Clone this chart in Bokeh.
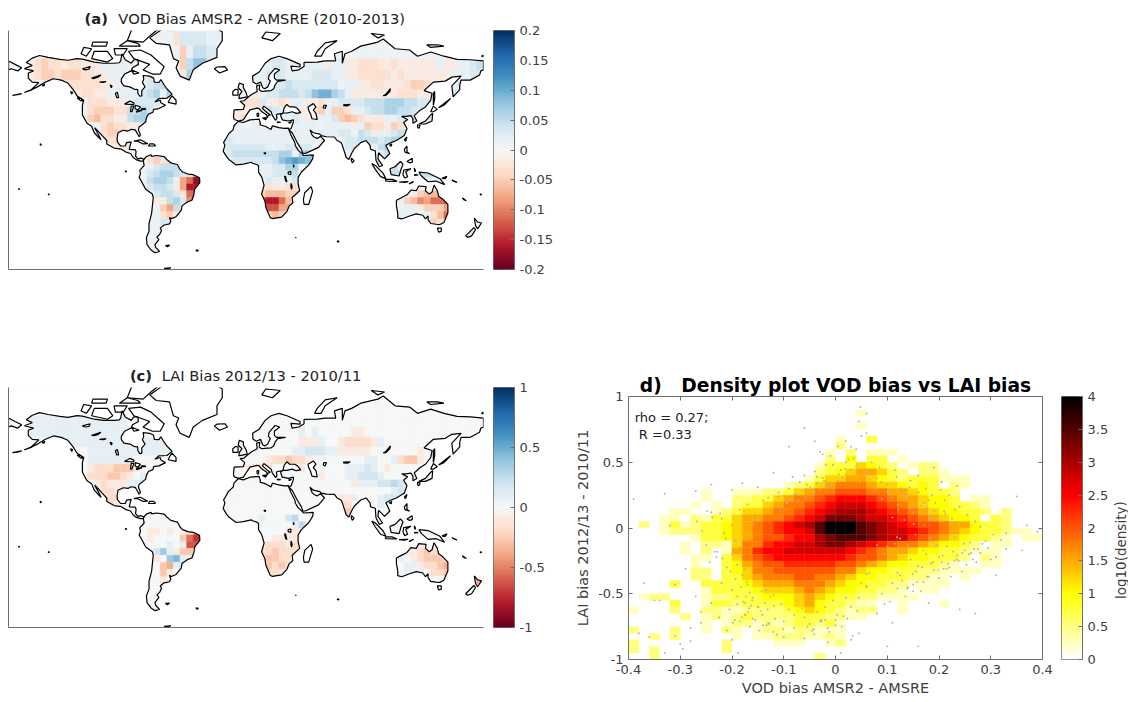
import numpy as np
from bokeh.plotting import figure
from bokeh.layouts import row, column
from bokeh.embed import file_html
from bokeh.resources import INLINE
from bokeh.models import (ColumnDataSource, LinearColorMapper, FixedTicker, LinearAxis, Label, Range1d)
from bokeh.palettes import RdBu11
from bokeh.core.properties import value
from bokeh.transform import transform

# ---------- titles / labels ----------
title_a = ("(a)", "VOD Bias AMSR2 - AMSRE (2010-2013)")
title_c = ("(c)", "LAI Bias 2012/13 - 2010/11")
title_d = "d)\u00a0\u00a0\u00a0Density plot VOD bias vs LAI bias"
xlabel_d = "VOD bias AMSR2 - AMSRE"
ylabel_d = "LAI bias 2012/13 - 2010/11"
cblabel_d = "log10(density)"
note_lines = ["rho = 0.27;", "\u00a0R =0.33"]

ticks_cb_a = [-0.2, -0.15, -0.1, -0.05, 0, 0.05, 0.1, 0.15, 0.2]
ticks_cb_c = [-1, -0.5, 0, 0.5, 1]
ticks_cb_d = [0, 0.5, 1, 1.5, 2, 2.5, 3, 3.5, 4]
ticks_x_d = [-0.4, -0.3, -0.2, -0.1, 0, 0.1, 0.2, 0.3, 0.4]
ticks_y_d = [-1, -0.5, 0, 0.5, 1]

# ---------- coastlines (lon, lat) ----------
north_america = [(-168,65.6),(-164,66.5),(-162,67),(-166.5,68.3),(-162,70.2),(-156.5,71.3),(-150,70.5),(-141,69.7),(-135,69.3),(-128,70),(-124,69.8),(-115,68.5),(-108,68),(-100,68),(-96,68.2),(-95,69),(-94,72),(-91.5,69.5),(-87,68),(-85,69.5),(-82,69.5),(-81.5,67.5),(-86,66),(-87,64.5),(-92,63),(-94.5,60.5),(-94.5,58.8),(-92.5,57),(-88,56.5),(-85,55.3),(-82,55),(-82,53),(-80.5,51.3),(-79,51.5),(-79,54.5),(-76.5,56.5),(-78.5,58.7),(-77.5,60.5),(-78,62.3),(-73,62),(-70,61),(-69.5,59),(-66,58.8),(-64.5,60.3),(-62,57.5),(-60,55.5),(-56,52.5),(-60,50.2),(-66,50),(-69,48),(-65,49),(-64.5,47.5),(-61,46),(-66,44),(-70,43.5),(-70.5,41.7),(-74,40.5),(-75.5,38),(-76,35.5),(-78,34),(-81,32),(-81.5,30),(-80,26.5),(-81,25.2),(-82.7,28),(-84,30),(-87,30.4),(-89.5,29.2),(-93,29.7),(-97,28),(-97.7,24),(-97.5,21.5),(-95,18.5),(-91.5,18.5),(-90.5,21),(-87,21.5),(-88,18),(-88.5,16),(-84,15.8),(-83.3,14.5),(-83.7,11),(-82,9),(-79.5,9.5),(-77.5,8.7),(-77.8,7.3),(-80,7.3),(-83,8.2),(-85.5,10),(-87.5,13),(-91,14),(-94.5,16.2),(-100,17),(-105.5,20),(-105.5,22.5),(-109,26),(-112.5,29.5),(-114.7,31.5),(-112,27),(-109.8,23),(-112,25),(-115,28),(-117,32.5),(-120.5,34.5),(-124,40),(-124,46),(-123,49),(-128,51.5),(-131,55),(-135,58.5),(-140,60),(-146,60.7),(-152,59),(-158,56.5),(-163,54.8),(-157,58.7),(-162,59),(-165,61),(-165,63.5),(-161,64.5),(-168,65.6)]
south_america = [(-77.5,8.5),(-75.5,10.7),(-72,12),(-71.5,10.8),(-68,11.5),(-62,10.7),(-60,8.5),(-57,6),(-52,4.7),(-50,1),(-48,-1),(-44,-2.5),(-40,-3),(-35.2,-5.3),(-35,-9),(-39,-14),(-39.5,-18),(-41,-22),(-44.5,-23.2),(-48.5,-26),(-49,-29),(-53,-33.5),(-56.5,-34.8),(-58,-34),(-57,-36.5),(-58,-38.3),(-62,-39),(-65,-41),(-64,-42.5),(-65.5,-45),(-67.5,-46.5),(-66,-48),(-69,-51),(-68.5,-52.5),(-65.5,-54.8),(-69,-55.5),(-72,-54),(-75,-51),(-75.5,-47),(-73.5,-43),(-73.5,-38),(-71.5,-31),(-70.3,-20),(-71,-17.5),(-76,-14),(-79.5,-7.5),(-81,-5),(-80,-2.5),(-80.5,0.5),(-78.5,2.5),(-77.2,4),(-77.8,7.3),(-77.5,8.5)]
africa = [(-5.9,35.8),(-2,35),(3,36.8),(10,37.3),(11,34),(10.5,33.5),(15,32.3),(19,30.3),(20,32.8),(25,31.6),(29,31),(32.3,31.2),(32.6,29.9),(34,26.5),(37,21),(37.5,18.7),(39.5,15.5),(43,12.3),(43.5,11.5),(51,11.9),(50.5,9),(47.5,4.2),(42,-1),(39.5,-5),(39.5,-10),(40.7,-15),(35,-20),(35.5,-24),(32.8,-26),(31,-30),(27,-33.8),(20,-34.8),(18.3,-34),(15,-27),(14.3,-22.5),(11.8,-17.5),(13.7,-11),(12,-5),(9.5,-1),(9.5,3.7),(8.5,4.5),(5,5.7),(4,6.4),(-2,5),(-7.5,4.4),(-13,8.5),(-15,11),(-17.3,14.7),(-16,19),(-17,21),(-13,27.5),(-9.8,30),(-9,33),(-5.9,35.8)]
eurasia = [(-9,37),(-9.5,38.7),(-9,43.2),(-2,43.5),(-1,46),(-4.5,48.4),(-1.5,48.7),(2,51),(4.5,52.5),(8.5,54),(8,57),(10.5,57.5),(10,55),(12,54),(14,54.2),(19,54.5),(21,55.5),(22,57.5),(24,59.3),(30,60),(23,60),(21.5,61),(21.5,63),(25.5,65),(22,65.7),(17.5,62.5),(17,60.5),(18.5,59.5),(16.5,56.5),(14.2,55.5),(12.7,56),(11,59),(8,58),(5.3,59),(5,62),(10,64),(14.5,68),(19,70),(25,71),(31,70),(41,67.5),(41,66.3),(34,66.7),(35,64.5),(40,65),(44,66.5),(44,68.4),(54,68.5),(60,69),(68,69),(67,72),(73,73),(73,68),(75,72),(80,73),(87,75),(100,76.5),(104,77.6),(113,74),(124,73.5),(130,71),(140,72.7),(150,71),(160,69.7),(170,69.5),(180,69),(180,65),(178,64.5),(177,62.5),(170,60),(163,60),(162,57.5),(162,55),(157,51),(156,57),(163,62),(156,61.5),(151,59.5),(142,59),(135,54.5),(141,53),(140,49),(136,45),(132,43),(127.5,39.5),(129.5,36),(126.5,34.5),(126.5,37.5),(125,39.5),(121.5,39),(118,39),(122.5,37),(119.5,35),(122,31),(120,26),(114,22.5),(110,21),(106,19),(109,13),(105,9),(100.5,13.5),(100,9),(103.5,4),(101,3),(98.5,8),(98,15),(94.5,16),(94,19),(91,22.5),(87,21),(82,16.5),(80,13),(78,8.5),(76,10),(73,19),(72,21),(69,22.5),(67,25),(61,25.2),(57,26),(56,27),(51,28),(48.5,30),(50,26.5),(51.5,25),(54,24),(56.5,25.5),(59.5,22.5),(55,17.5),(45,13),(43,13),(42,16),(38.8,21),(35,28),(32.6,29.9),(34.3,31.2),(35.8,35),(36,36.8),(32,36),(27.5,36.8),(26.3,39.5),(26.5,40.5),(28,41),(24,40.5),(23,40),(23.5,38),(22.5,36.5),(20,39.5),(19,42),(13.5,45.5),(12.5,44),(16,41.5),(18.5,40),(16.8,39.5),(16,38),(15.7,40),(12,42),(10,44),(8.5,44.3),(3,43.2),(0,39.5),(-2,36.8),(-5.5,36),(-9,37)]
australia = [(114,-22),(114,-26),(115,-31),(115,-34.3),(118,-35),(124,-33),(129,-31.6),(134,-32.5),(136,-35),(138,-33),(138,-35.5),(140,-38),(144,-38.5),(147,-38.7),(150,-37.3),(153,-31),(153,-25),(149,-21),(146,-19),(145,-15),(142.5,-10.8),(141,-16),(139,-17.5),(136,-15),(136.5,-12),(131,-11.5),(129,-15),(125,-14.5),(122,-18),(117,-20.5),(114,-22)]
chukotka = [(-180,69),(-175,67.5),(-170,66),(-173,64.5),(-178,65.5),(-180,65),(-180,69)]
greenland = [(-73,78),(-68,76),(-58,75.5),(-55,70),(-51,69),(-53,66),(-50,62),(-43,60),(-40,65),(-33,68),(-22,70.5),(-22,74),(-18,77),(-18,80),(-25,82),(-40,83.5),(-60,82),(-73,78)]
# land islands that carry data
sumatra = [(95.3,5.5),(98,4),(104,-2),(106,-6),(102,-4.5),(98,1)]
java = [(105.5,-6.5),(111,-6.5),(114.5,-8),(106,-7.8)]
borneo = [(109,1.5),(113,3),(117,7),(119,5),(117.5,1),(116,-4),(110,-3)]
new_guinea = [(131,-1),(138,-1.7),(147,-6),(150.5,-10.5),(144,-7.8),(138,-8.3),(133,-4)]
honshu = [(131,34),(136,36),(140,40),(141.5,41),(141,36),(136,34)]
nz_north = [(173,-34.5),(175.5,-37),(178.5,-37.7),(175.5,-41.5),(174,-39.5)]
nz_south = [(172.7,-40.7),(174,-42),(171,-45.8),(168,-46.7),(166.5,-45.8)]
great_britain = [(-5.5,50),(1,51),(0,53.5),(-2,56),(-2,57.7),(-5,58.5),(-6,56),(-3,54),(-5,52)]
# white islands
baffin = [(-80,73.5),(-72,71.5),(-67,69),(-62,66.5),(-65,63),(-71,63),(-78,65),(-73,67.5),(-85,70),(-89,73)]
victoria_isl = [(-117,70),(-105,68.5),(-101,70),(-105,73),(-115,73)]
banks = [(-125,72),(-121,71),(-117,74),(-123,74.5)]
ellesmere = [(-90,77),(-78,76.5),(-72,79),(-62,82.5),(-85,82.5)]
devon = [(-96,75),(-80,75),(-82,76),(-90,77)]
melville = [(-117,75),(-106,75),(-105,76.5),(-116,76.5)]
prince_wales = [(-100,74),(-90,74),(-93,71.5),(-99,71.5)]
southampton = [(-87,65),(-81,63.5),(-85,63)]
newfoundland = [(-59,47.7),(-53,46.7),(-53,49),(-56,51.5),(-57.5,50)]
iceland = [(-24,65.5),(-20,63.5),(-14,65),(-16,66.5),(-22,66.3)]
ireland = [(-10,52),(-6,52),(-6,55),(-8,55.2),(-10,54)]
svalbard = [(12,78),(20,77),(26,79.5),(15,80)]
novaya = [(52,71),(57,71),(60,74),(69,77),(60,76.2),(54,73)]
cuba = [(-85,22),(-80,23),(-74.5,20.2),(-78,20),(-82,22)]
hispaniola = [(-74,18.5),(-68.5,18.5),(-70,20),(-73,20)]
madagascar = [(49.3,-12),(50.5,-15.5),(47.5,-25),(44,-25),(43.5,-21.5),(44.5,-16.5)]
sri_lanka = [(80,9.5),(82,7.5),(80.5,6),(79.8,8)]
sulawesi = [(119.5,0.5),(125,1.5),(121,-0.8),(122.5,-4.5),(120.3,-5.5),(119,-3)]
luzon = [(120,16),(122,18.5),(122,14),(124,12.8),(120.5,14)]
mindanao = [(122,7),(126,9.5),(126,6.5),(124,6)]
taiwan = [(120,23),(122,25),(121,22)]
hainan = [(108.7,19),(110.5,20),(110,18.3)]
hokkaido = [(140,42),(142,45.5),(145,43.5),(142,42)]
kyushu = [(130,33.5),(132,33),(131,31),(130,32)]
sakhalin = [(142,46),(143,50),(143,54),(142,53),(142,49)]
tasmania = [(145,-41),(148,-41),(148,-43),(146,-43.5)]
sardinia = [(8.3,41),(9.7,41),(9.5,39),(8.5,39)]
sicily = [(12.5,38),(15.5,38.2),(15,36.8)]
crete = [(23.5,35.5),(26.3,35.2),(24,35)]
cyprus = [(32.3,35),(34.5,35.5),(33,34.6)]
timor = [(123.5,-10),(127,-8.4),(125,-9)]
flores = [(116,-8.5),(123,-8.2),(120,-8.9)]
seram = [(127.5,-3),(130.5,-3.2),(128,-3.5)]
halmahera = [(127.5,2),(128.5,0),(128,-0.8)]
new_caledonia = [(164,-20.3),(167,-22.3),(165,-21.6)]
solomon = [(156,-7),(160,-8.8),(157.5,-8)]
new_britain = [(148.5,-5.8),(152.3,-4.2),(151,-6)]
fiji = [(177.3,-17.5),(178.6,-17.7),(178,-18.3)]
hawaii = [(-156,20.2),(-155,19.5),(-155.8,19)]
aleut_a = [(-177,51.8),(-172,52.3),(-170,52.8)]
aleut_b = [(-168,53.4),(-165,54.3),(-162,55)]
kodiak = [(-154.5,57.2),(-152.5,58),(-153,57)]
vancouver = [(-128,50.5),(-125,50),(-123.5,48.5),(-125.5,48.8)]
haida = [(-133,54),(-131.5,53.5),(-132,52.5)]
falkland = [(-61,-51.5),(-58,-51.3),(-59.5,-52.2)]
south_georgia = [(-38,-54),(-36,-54.2),(-37,-54.7)]
antarctic_tip = [(-62,-63.5),(-57,-63.2),(-59,-63.9)]
antarctic_b = [(-63,-64.3),(-61.5,-63.9),(-60,-64.3)]
kerguelen = [(69,-49),(70.5,-49),(70,-49.6)]
marion = [(37.5,-46.7),(38,-46.8),(37.8,-47)]
galapagos = [(-91.5,-0.3),(-90.5,-0.3),(-91,-1)]
tahiti = [(-150,-17.5),(-149,-17.5),(-149.5,-18)]
samoa = [(-172.5,-13.5),(-171.5,-13.8),(-172,-14.1)]
kuril = [(146,44.5),(150,46),(155,50)]
wrangel = [(178.5,71),(180,71.5),(180,70.8)]
siberian_isl = [(137,75.5),(145,75.5),(150,75),(140,74.5)]
severnaya = [(95,79.5),(105,79),(100,78)]
# inland waters
black_sea = [(28,41.2),(31,41.2),(35,42),(38,41),(41.5,41.5),(39,44),(37,45),(35,45),(33,45),(31,46.5),(29,44.5)]
caspian = [(47,45),(51,47),(53,45),(51,43),(53,41),(54,37),(50,37.5),(49,40.5),(47.5,43)]
aral = [(59,46),(61,46),(60,44),(58.5,44.5)]
baikal = [(104,51.6),(106,52.5),(109.5,55.5),(109,54),(106,51.8)]
balkhash = [(74,46.3),(79,46.5),(77,45.7),(74,45.8)]
superior = [(-92,46.7),(-88,48.5),(-85,47.5),(-85,46.5),(-88,46.5)]
michigan = [(-87.5,42),(-86.5,42),(-85,45.5),(-87,45.5)]
huron = [(-84,46),(-80,45),(-82,43),(-84,44)]
erie = [(-83,41.7),(-79,42.8),(-79,43),(-83,42.3)]
ontario = [(-79.5,43.5),(-76,43.5),(-76.5,44),(-79,44)]
winnipeg = [(-98,50.5),(-96.5,50.5),(-97.5,53.5),(-99,53)]
great_slave = [(-117,61),(-110,62.5),(-112,61.5),(-115,60.8)]
great_bear = [(-124,65.5),(-118,66.5),(-119,65.3),(-122,65)]
athabasca = [(-111,59),(-106,59.3),(-108,58.8)]
reindeer = [(-103,57.5),(-101.5,57),(-102,56)]
victoria_lk = [(32,-1),(34,-0.5),(34,-3),(32,-2.5)]
tanganyika = [(29.2,-4),(30,-4.5),(31,-8.5),(30,-7.5)]
malawi = [(34.2,-9.5),(35,-12),(34.5,-14),(34,-12)]
turkana = [(35.8,4.5),(36.3,4),(36.2,2.5)]
chad = [(13.5,13.5),(15,13.5),(14.5,12.5)]

land_holes = [north_america, south_america, africa, eurasia, australia, chukotka, sumatra, java, borneo, new_guinea, honshu, nz_north, nz_south, great_britain]
white_rings = [baffin, victoria_isl, banks, ellesmere, devon, melville, prince_wales, southampton, newfoundland, iceland, ireland, svalbard, novaya, cuba, hispaniola, madagascar, sri_lanka, sulawesi, luzon, mindanao, taiwan, hainan, hokkaido, kyushu, sakhalin, tasmania, sardinia, sicily, crete, cyprus, timor, flores, seram, halmahera, new_caledonia, solomon, new_britain, fiji, hawaii, aleut_a, aleut_b, kodiak, vancouver, haida, falkland, south_georgia, antarctic_tip, antarctic_b, kerguelen, marion, galapagos, tahiti, samoa, kuril, wrangel, siberian_isl, severnaya, black_sea, caspian, aral, baikal, balkhash, superior, michigan, huron, erie, ontario, winnipeg, great_slave, great_bear, athabasca, reindeer, victoria_lk, tanganyika, malawi, turkana, chad]

# ---------- regional bias read from the maps, 5 deg cells, top row 85-80N ----------
# digits: positive steps, letters a-l: negative steps, dot: land background
bias_a = [
"........................b1111111",
".........................b2222111",
"..........................c1332211",
"...abcbbabbaaa1111........c35521.......122111111a11aabbbaabaaaaaa1aa1123",
"...abccbcccbbaa11111122...a442.......11222111122211aabbbbbabaaaaaaa11122",
"........abbbbbaa11111233.32............22232222222.11aabbaaabccbaa11234311",
"..........abbaa11111234.43...........a12233323566431aaaaaaabbbaa1112",
"............bbbaaa122221..........abbb2aaba11aab112222333444332211",
"............bcccbb3342...........aaaabb32121aabc1ccb112334433221",
"............cdbbaa3441............ab.....1121a1112cdcbaaa11233422",
"..............bcbbaa223..............1111111111.1111a1cbbacba1233322",
"..............bccd22............11111111111111111122.32a11233322",
"...............bbcb..............21111111111111111.22333234443",
"...............1aab1.............2222221112222.11..2233.34443",
".................1111a...........2333333344.455.....22...3344",
".....................bcbcaa1......2222223567653.........33.2",
".....................12333aa.........1112244.32..........33.4455",
".....................2344322e.........112223.1............3344333.3322",
".....................34431egk.........121112.1..............222...222",
".....................2332aejj.........abaabbb..................aaa",
"......................2332bgh.........cdddccc...............1acdddf",
"......................aa342f.........dhjjgd...............11cdfeggh",
".......................ce32b..........chheed................11acccegg",
".......................bca2............cdcb................11a.1bdgf...2",
".......................212......................................cb...22",
".......................11............................................22",
".......................11............................................2",
".......................11",
"",
"",
]
bias_c = [
"", "", "",
"...111111111111111",
"...1111111111111111.........................1.1.....aa",
"........111111111111111111..................aaa1..abbbba1",
"............1111111111111...........11.....1122211aaaaa.......a",
"............1111111....................abbcbba........11..1bcca",
"............abbbccca................abbb....a......11121.a",
"............bbbccba.1................a.a.a.....a...112221",
".............abaaa112...............................a11122321",
"..............bbaa1.......................................12221",
"...............bbaa..............................aaa1...1221",
"...............baa...............................abb....1.1",
"..................................................bcb",
"......................................1...23",
"...........................................13a",
".....................aa.a.abe.............aaa",
".....................a....cfh...........aaaa",
"........................1.1gg.........abbbab..................aa",
"......................241acc..........bbcbbb................1abcbbb",
"......................a.451a..........bccbbb...............1.abcccbb",
".......................cd121..........bcbcb.................11abbcdcc",
".......................ca.1............bbaa.................111.bbcde",
".......................a..............................................cd",
"", "", "", "", "",
]
step_a = 0.016
step_c = 0.09

# ---------- density plot: log10(density) classes, bins 0.02 x 0.05, top row first ----------
density_rows = [
"",
"",
"......................1",
"",
"......................1",
"",
"....................1..3",
"....................2",
"...................1.2.111",
"...................2.4.33.1",
"..................13335432.122",
"..................234566532.221",
".................1355665432333111",
"...............123567776554343.21",
".......1..1112235677888776654332",
".......1..2233567789aaa987665443.11",
"......1.1.233567789abbba98765443321",
"....11..1235567789abcccba9876544332.2",
"...11.21335667789abdddcbba98765443.32",
".2.131233456789abcegggedcba9887664332",
"...122233456789aabegggedcbba98765433211",
"......1334567889aacdeeedcbb9876543321.11",
".....1.2215779aabbcddcba9877654432.11",
".....1.2.1679aabbbbbba98766544332111",
"......11.35789aaaaaaa988765443332.21",
"......1..346788999998876544 33321..11".replace(" ", ""),
"......22.3457788888877544333221111",
"......22.3356777887765443332211.1",
"....3..333345666777654433221111",
".......13333455567654433221.11",
".122...122333444565433221111",
"....3..13323333456433211..1...1",
"1...2..22112222345432122..1",
".....2.1212322223332211",
".......1.122121233231",
"2...2..1.21.122122111",
"..2.2.....1.112221121",
"2........2....111..12",
"2.2......2",
"..2...............2",
]
density_levels = {"1":0.25,"2":0.5,"3":0.75,"4":1.0,"5":1.25,"6":1.5,"7":1.75,"8":2.0,"9":2.25,
                  "a":2.5,"b":2.75,"c":3.0,"d":3.25,"e":3.5,"f":3.75,"g":4.0}

# gray points over the density plot
dots_x = [-0.38,-0.36,-0.34,-0.31,-0.29,-0.27,-0.33,-0.28,-0.3,-0.26,-0.24,-0.22,-0.25,-0.23,-0.21,-0.2,-0.19,-0.24,-0.22,-0.2,-0.18,-0.215,-0.195,-0.205,-0.185,-0.175,-0.165,-0.2,-0.19,-0.18,-0.17,-0.16,-0.15,-0.21,-0.2,-0.19,-0.175,-0.16,-0.145,-0.13,-0.185,-0.17,-0.155,-0.14,-0.125,-0.11,-0.095,-0.15,-0.135,-0.12,-0.105,-0.09,-0.075,-0.06,-0.14,-0.12,-0.1,-0.08,-0.065,-0.05,-0.035,-0.02,-0.13,-0.11,-0.09,-0.07,-0.055,-0.04,-0.025,-0.01,0.005,0.02,-0.1,-0.08,-0.06,-0.045,-0.03,-0.015,0.0,0.015,0.03,0.045,0.06,-0.06,-0.04,-0.02,-0.005,0.01,0.025,0.04,0.055,0.07,0.085,-0.03,-0.01,0.005,0.02,0.035,0.08,0.1,0.115,0.13,0.145,0.16,0.175,0.19,0.205,0.22,0.235,0.09,0.105,0.12,0.135,0.15,0.165,0.18,0.195,0.21,0.225,0.24,0.255,0.27,0.11,0.125,0.14,0.155,0.17,0.185,0.2,0.215,0.23,0.245,0.26,0.275,0.29,0.305,0.32,0.1,0.115,0.13,0.145,0.16,0.175,0.19,0.205,0.22,0.235,0.25,0.265,0.28,0.295,0.31,0.33,0.08,0.095,0.11,0.125,0.14,0.155,0.17,0.185,0.2,0.215,0.23,0.06,0.075,0.09,0.105,0.12,0.135,0.15,0.165,0.18,0.05,0.065,0.08,0.095,0.11,-0.02,-0.005,0.01,0.03,0.045,-0.015,0.0,0.02,0.04,0.06,-0.04,-0.025,0.03,0.05,0.045,0.048,0.06,-0.06,-0.09,-0.12,-0.15,-0.18,-0.2,-0.24,-0.27,0.35,0.37,0.39,0.33,0.36,0.28,0.3,0.12,0.15,0.18,0.24,0.27,0.31,-0.37,-0.35,-0.32,-0.295,-0.26,-0.225,0.02,0.06,0.1,0.16,-0.28,-0.31,-0.33,-0.39,
-0.195,-0.188,-0.182,-0.176,-0.171,-0.166,-0.178,-0.169,-0.192,-0.185,-0.158,-0.152,-0.198,-0.174,-0.161,-0.149,-0.143,-0.137,-0.181,-0.167,-0.155,-0.147,-0.133,-0.126,-0.119,-0.141,-0.128,-0.113,-0.101,-0.131,-0.117,-0.107,-0.093,-0.087,-0.079,-0.071,-0.064,-0.057,-0.049,-0.043,-0.036,-0.029,-0.023,-0.016,-0.083,-0.069,-0.054,-0.041,-0.027,-0.012,0.003,0.012,0.023,0.033,0.042,-0.042,-0.028,-0.011,0.007,0.018,-0.036,-0.019,-0.003,0.013,0.029,0.047,0.058,0.066,0.076,0.088,0.103,0.118,0.127,0.136,0.143,0.152,0.161,0.168,0.177,0.186,0.193,0.203,0.212,0.108,0.121,0.133,0.142,0.151,0.163,0.172,0.181,0.191,0.201,0.211,0.221,0.231,0.172,0.183,0.194,0.207,0.218,0.227,0.238,0.248,0.258,0.268,0.183,0.197,0.209,0.223,0.234,0.244,0.253,0.262,0.272,0.284,0.107,0.119,0.129,0.138,0.149,0.158,0.167,0.177,0.188,0.199,-0.218,-0.228,-0.238,-0.248,-0.258,-0.268,-0.212,-0.223,-0.233,-0.243,-0.203,-0.193,-0.183,-0.173,-0.163]
dots_y = [-0.8,-0.83,-0.55,-0.43,-0.31,-0.52,-0.95,-0.76,-0.88,-0.64,-0.57,-0.42,-0.13,-0.22,-0.3,-0.47,-0.58,0.12,0.07,0.02,0.09,-0.04,-0.1,-0.62,-0.71,-0.66,-0.75,-0.2,-0.28,-0.36,-0.43,-0.53,-0.6,-0.78,-0.85,-0.52,-0.57,-0.69,-0.63,-0.72,0.14,0.18,0.1,0.21,0.16,0.24,0.19,-0.4,-0.47,-0.51,-0.58,-0.62,-0.55,-0.68,-0.74,-0.79,-0.71,-0.66,-0.61,-0.73,-0.64,-0.7,0.23,0.27,0.3,0.25,0.33,0.28,0.38,0.31,0.36,0.41,-0.83,-0.76,-0.84,-0.78,-0.71,-0.87,-0.74,-0.67,-0.6,-0.53,-0.44,0.4,0.43,0.36,0.48,0.44,0.52,0.47,0.42,0.5,0.46,0.58,0.55,0.62,0.5,0.53,0.38,0.33,0.44,0.27,0.36,0.4,0.3,0.46,0.35,0.25,0.32,0.22,0.28,0.18,0.23,0.12,0.17,0.21,0.09,0.13,0.07,0.16,0.1,0.05,0.08,-0.08,-0.13,-0.05,-0.17,-0.1,-0.22,-0.14,-0.07,-0.19,-0.11,-0.16,-0.1,-0.05,-0.09,-0.14,-0.12,-0.18,-0.24,-0.29,-0.2,-0.32,-0.26,-0.3,-0.21,-0.17,-0.24,-0.19,-0.15,-0.22,-0.16,-0.13,-0.2,-0.42,-0.36,-0.45,-0.33,-0.41,-0.27,-0.38,-0.31,-0.25,-0.35,-0.28,-0.5,-0.56,-0.46,-0.52,-0.43,-0.48,-0.37,-0.42,-0.34,-0.65,-0.58,-0.72,-0.6,-0.55,-0.95,-0.85,-0.8,-0.76,-0.7,0.66,0.6,0.72,0.66,0.56,0.62,0.7,0.81,0.92,0.87,0.76,0.62,0.42,0.31,0.34,0.29,0.33,0.28,0.24,0.02,-0.03,-0.04,-0.17,0.01,-0.24,-0.34,-0.48,-0.57,-0.62,-0.65,-0.36,-0.42,-0.55,0.02,-0.92,-0.72,-0.68,-0.53,-0.45,-0.9,-0.9,-0.86,-0.82,0.26,0.22,-0.7,-0.95,
-0.22,-0.31,-0.41,-0.49,-0.56,-0.64,-0.1,-0.15,0.03,0.06,-0.72,-0.66,-0.55,-0.6,-0.48,-0.57,-0.68,-0.61,-0.7,-0.78,-0.74,-0.52,-0.59,-0.66,-0.73,-0.81,-0.77,-0.62,-0.69,0.13,0.19,0.22,0.26,0.21,0.29,0.24,0.31,0.27,0.34,0.29,0.36,0.32,0.39,0.35,-0.75,-0.81,-0.71,-0.79,-0.66,-0.75,-0.69,-0.82,-0.63,-0.77,-0.7,0.34,0.41,0.45,0.39,0.48,0.31,0.38,0.44,0.35,0.42,0.37,0.3,0.35,0.28,0.39,0.3,0.24,0.31,0.17,0.27,0.2,0.15,0.25,0.19,0.29,0.11,0.23,0.14,0.06,0.15,0.03,0.1,0.19,0.07,0.13,0.05,0.21,0.04,0.14,0.02,0.09,-0.14,-0.21,-0.27,-0.18,-0.25,-0.12,-0.2,-0.16,-0.08,-0.13,-0.31,-0.37,-0.24,-0.33,-0.28,-0.19,-0.26,-0.12,-0.17,-0.07,-0.4,-0.46,-0.35,-0.41,-0.3,-0.37,-0.26,-0.32,-0.23,-0.18,0.08,0.13,-0.02,0.05,-0.08,0.11,-0.18,-0.26,-0.33,-0.39,-0.45,-0.52,-0.59,0.12,0.05]

# ---------- colours ----------
ink = "#404040"
axis_gray = "#6e6e6e"
font = "DejaVu Sans"


def rdbu256():
    stops = np.array([[int(c[i:i + 2], 16) for i in (1, 3, 5)] for c in reversed(RdBu11)], float)
    pos = np.linspace(0, 1, len(stops))
    t = np.linspace(0, 1, 256)
    rgb = np.stack([np.interp(t, pos, stops[:, k]) for k in range(3)], 1).round().astype(int)
    return ["#%02x%02x%02x" % tuple(c) for c in rgb]


def hot256():
    t = np.linspace(1, 0, 256)
    r = np.clip(t / 0.375, 0, 1)
    g = np.clip((t - 0.375) / 0.375, 0, 1)
    b = np.clip((t - 0.75) / 0.25, 0, 1)
    rgb = (np.stack([r, g, b], 1) * 255).round().astype(int)
    return ["#%02x%02x%02x" % tuple(c) for c in rgb]


RDBU = rdbu256()
HOT = hot256()


def miller(lat):
    return 1.25 * np.log(np.tan(np.pi / 4 + 0.4 * np.radians(np.asarray(lat, float))))


def ring_xy(ring):
    a = np.array(ring, float)
    return list(a[:, 0]), list(miller(a[:, 1]))


def decode(ch, step, base):
    if ch in "123456789":
        return int(ch) * step
    if ch in "abcdefghijkl":
        return -(ord(ch) - 96) * step
    return base


LAT_TOP, LAT_BOT = 80.5, -64.0
M_TOP, M_BOT = float(miller(LAT_TOP)), float(miller(LAT_BOT))


def text_strip(width, height):
    """A bare figure whose frame is its whole canvas, one data unit per pixel, for texts outside a plot frame."""
    p = figure(width=width, height=height, output_backend="svg", toolbar_location=None,
               x_range=Range1d(0, width), y_range=Range1d(0, height),
               x_axis_location=None, y_axis_location=None, outline_line_color=None,
               min_border_left=0, min_border_right=0, min_border_top=0, min_border_bottom=0)
    p.grid.visible = False
    return p


def title_strip(parts, height, x_px, y_center_from_bottom):
    p = text_strip(493, height)
    p.text(x=[x_px[0]], y=[y_center_from_bottom], text=[parts[0]], text_font=value(font), text_font_size="14.7px",
           text_font_style="bold", text_color="#222222", text_baseline="middle")
    p.text(x=[x_px[1]], y=[y_center_from_bottom], text=[parts[1]], text_font=value(font), text_font_size="14.7px",
           text_color="#222222", text_baseline="middle")
    return p


def map_figure(rows, step, base, vmax, holes, frame_h, bottom_border):
    p = figure(width=493, height=frame_h + bottom_border, output_backend="svg", toolbar_location=None,
               x_range=Range1d(-180, 180), y_range=Range1d(M_BOT, M_TOP),
               min_border_left=8, min_border_right=10, min_border_top=0, min_border_bottom=bottom_border,
               outline_line_color=None, background_fill_color="white")
    p.grid.visible = False
    for ax in (p.xaxis[0], p.yaxis[0]):
        ax.ticker = FixedTicker(ticks=[])
        ax.axis_line_color = axis_gray
        ax.axis_line_width = 1
        ax.major_tick_line_color = None
        ax.minor_tick_line_color = None
    mapper = LinearColorMapper(palette=RDBU, low=-vmax, high=vmax)
    left, right, top, bottom, val = [], [], [], [], []
    for r in range(30):
        text = rows[r] if r < len(rows) else ""
        text = text.ljust(72, ".")[:72]
        la_top = 85 - 5 * r
        for c in range(72):
            lon = -180 + 5 * c
            left.append(lon)
            right.append(lon + 5)
            top.append(float(miller(la_top)))
            bottom.append(float(miller(la_top - 5)))
            val.append(decode(text[c], step, base))
    src = ColumnDataSource(dict(left=left, right=right, top=top, bottom=bottom, val=val))
    p.quad(left="left", right="right", top="top", bottom="bottom", source=src,
           fill_color=transform("val", mapper), line_color=transform("val", mapper), line_width=0.5)
    # ocean mask with land as holes
    ext_x = [-181, 181, 181, -181]
    ext_y = [float(miller(-70)), float(miller(-70)), float(miller(84)), float(miller(84))]
    poly_x, poly_y = [ext_x], [ext_y]
    for ring in holes:
        x, y = ring_xy(ring)
        poly_x.append(x)
        poly_y.append(y)
    p.multi_polygons(xs=[[poly_x]], ys=[[poly_y]], fill_color="white", line_color=None)
    # white islands and lakes
    wx, wy = [], []
    for ring in white_rings:
        x, y = ring_xy(ring)
        wx.append(x + x[:1])
        wy.append(y + y[:1])
    if greenland not in holes:
        x, y = ring_xy(greenland)
        wx.append(x)
        wy.append(y)
    hx, hy = [], []
    for ring in holes:
        x, y = ring_xy(ring)
        hx.append(x + x[:1])
        hy.append(y + y[:1])
    p.patches(wx, wy, fill_color="white", line_color="black", line_width=1.2)
    p.multi_line(hx, hy, line_color="black", line_width=1.2)
    return p


def colorbar_figure(palette, low, high, ticks, width, top_border, frame_h, bottom_border, right_border):
    p = figure(width=width, height=top_border + frame_h + bottom_border, output_backend="svg", toolbar_location=None,
               x_range=Range1d(0, 1), y_range=Range1d(low, high),
               min_border_left=0, min_border_right=right_border, min_border_top=top_border, min_border_bottom=bottom_border,
               outline_line_color=axis_gray, outline_line_width=1, y_axis_location="right")
    p.grid.visible = False
    p.xaxis.visible = False
    mapper = LinearColorMapper(palette=palette, low=low, high=high)
    grad = np.linspace(low, high, 256).reshape(256, 1)
    p.image(image=[grad], x=0, y=low, dw=1, dh=high - low, color_mapper=mapper)
    ax = p.yaxis[0]
    ax.ticker = FixedTicker(ticks=ticks)
    ax.major_label_overrides = {t: ("%g" % t) for t in ticks}
    ax.major_tick_in = 4
    ax.major_tick_out = 0
    ax.major_tick_line_color = axis_gray
    ax.minor_tick_line_color = None
    ax.axis_line_color = axis_gray
    ax.major_label_standoff = 5
    ax.major_label_text_font = font
    ax.major_label_text_font_size = "13px"
    ax.major_label_text_color = ink
    return p


holes_a = land_holes + [greenland]
strip_a = title_strip(title_a, 30, (79, 114), 12)
fig_a = map_figure(bias_a, step_a, 0.012, 0.2, holes_a, 239, 10)
cb_a = colorbar_figure(RDBU, -0.2, 0.2, ticks_cb_a, 66, 30, 239, 10, 45)
strip_c = title_strip(title_c, 108, (126, 159), 12)
fig_c = map_figure(bias_c, step_c, 0.0, 1.0, land_holes, 240, 15)
cb_c = colorbar_figure(RDBU, -1, 1, ticks_cb_c, 66, 108, 240, 15, 45)

# density plot
fig_d = figure(width=502, height=396 + 263 + 42, output_backend="svg", toolbar_location=None,
               x_range=Range1d(-0.4, 0.4), y_range=Range1d(-1, 1),
               min_border_left=69, min_border_right=19, min_border_top=396, min_border_bottom=42,
               outline_line_color=axis_gray, title=title_d)
fig_d.grid.visible = False
fig_d.title.align = "center"
fig_d.title.text_font = font
fig_d.title.text_font_size = "18.7px"
fig_d.title.text_font_style = "bold"
fig_d.title.text_color = "black"
fig_d.title.standoff = 2
dmap = LinearColorMapper(palette=HOT, low=0, high=4)
cell_w, cell_h = 0.02, 0.05
l, r_, t, b, v = [], [], [], [], []
for ri, text in enumerate(density_rows):
    for ci, ch in enumerate(text[:40]):
        if ch in density_levels:
            l.append(-0.4 + ci * cell_w)
            r_.append(-0.4 + (ci + 1) * cell_w)
            t.append(1 - ri * cell_h)
            b.append(1 - (ri + 1) * cell_h)
            v.append(density_levels[ch])
src_d = ColumnDataSource(dict(left=l, right=r_, top=t, bottom=b, val=v))
fig_d.quad(left="left", right="right", top="top", bottom="bottom", source=src_d,
           fill_color=transform("val", dmap), line_color=transform("val", dmap), line_width=0.4)
fig_d.scatter(dots_x, dots_y, marker="circle", size=1.9, fill_color="#b0b0b0", line_color=None)

for ax, ticks in ((fig_d.xaxis[0], ticks_x_d), (fig_d.yaxis[0], ticks_y_d)):
    ax.ticker = FixedTicker(ticks=ticks)
    ax.major_label_overrides = {tk: ("%g" % tk) for tk in ticks}
    ax.major_tick_in = 4
    ax.major_tick_out = 0
    ax.minor_tick_line_color = None
    ax.major_tick_line_color = axis_gray
    ax.axis_line_color = axis_gray
    ax.major_label_text_font = font
    ax.major_label_text_font_size = "13px"
    ax.major_label_text_color = ink
    ax.axis_label_text_font = font
    ax.axis_label_text_font_size = "14.5px"
    ax.axis_label_text_font_style = "normal"
    ax.axis_label_text_color = ink
fig_d.xaxis[0].axis_label = xlabel_d
fig_d.yaxis[0].axis_label = ylabel_d
fig_d.xaxis[0].major_label_standoff = 5
fig_d.xaxis[0].axis_label_standoff = 3
fig_d.yaxis[0].major_label_standoff = 5
fig_d.yaxis[0].axis_label_standoff = 4
for loc, ticks in (("above", ticks_x_d), ("right", ticks_y_d)):
    ax = LinearAxis(ticker=FixedTicker(ticks=ticks), major_label_text_font_size="0px", major_label_text_color=None,
                    major_tick_in=4, major_tick_out=0, minor_tick_line_color=None,
                    major_tick_line_color=axis_gray, axis_line_color=axis_gray, major_label_standoff=0)
    fig_d.add_layout(ax, loc)

fig_d.add_layout(Label(x=-0.388, y=0.84, text=note_lines[0], text_font=font, text_font_size="13px",
                       text_color="#222222", text_baseline="middle"))
fig_d.add_layout(Label(x=-0.388, y=0.71, text=note_lines[1], text_font=font, text_font_size="13px",
                       text_color="#222222", text_baseline="middle"))

cb_d = colorbar_figure(HOT, 0, 4, ticks_cb_d, 51, 396, 263, 42, 30)
# strip right of the density colour bar, holding its rotated label
strip_d = text_strip(16, 396 + 263 + 42)
strip_d.text(x=[8], y=[161], text=[cblabel_d], angle=[np.pi / 2], text_font=value(font),
             text_font_size="13.5px", text_color=ink, text_align="left", text_baseline="middle")

layout = row(
    column(
        row(column(strip_a, fig_a, spacing=0), cb_a, spacing=0),
        row(column(strip_c, fig_c, spacing=0), cb_c, spacing=0),
        spacing=0),
    row(fig_d, cb_d, strip_d, spacing=0),
    spacing=0)
open("out.html", "w").write(file_html(layout, INLINE))
